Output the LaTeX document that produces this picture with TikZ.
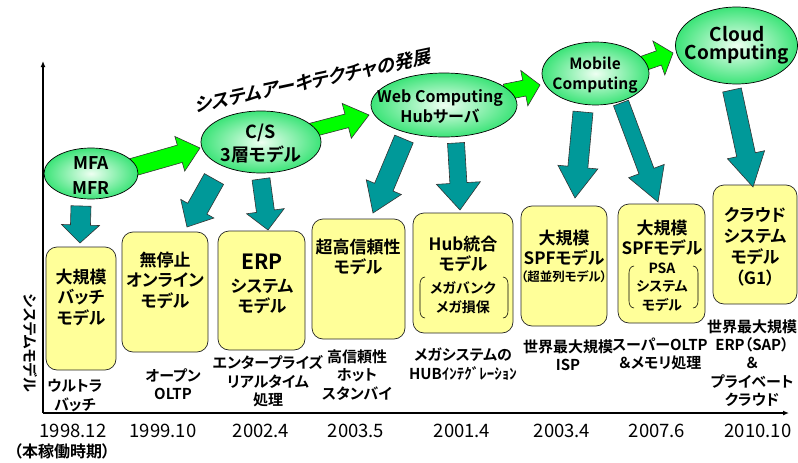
\documentclass[tikz,border=0pt]{standalone}
\usepackage{fontspec}
\setmainfont{Noto Sans CJK JP Bold}[RawFeature=+palt]
\newfontfamily\titlefont{Noto Sans CJK JP Bold}[RawFeature=+palt,FakeSlant=0.25]
\newfontfamily\datefont{Noto Sans CJK JP}
\usetikzlibrary{calc,shapes.geometric,arrows.meta}
\definecolor{boxyellow}{RGB}{255,255,153}
\definecolor{tealar}{RGB}{0,153,153}
\definecolor{greenar}{RGB}{0,255,0}
\definecolor{ellout}{RGB}{60,228,120}
\definecolor{ellin}{RGB}{238,255,242}
% block arrow: #1 style, #2 from, #3 to, #4 half shaft, #5 half head, #6 head length
\newcommand\blkarrow[6]{%
  \draw[#1] let \p1=(#2), \p2=(#3),
    \n1={atan2(\y2-\y1,\x2-\x1)}, \n2={veclen(\x2-\x1,\y2-\y1)-#6pt} in
    ($(\p1)+(\n1+90:#4pt)$) --
    ($(\p1)+(\n1:\n2)+(\n1+90:#4pt)$) --
    ($(\p1)+(\n1:\n2)+(\n1+90:#5pt)$) --
    (\p2) --
    ($(\p1)+(\n1:\n2)+(\n1-90:#5pt)$) --
    ($(\p1)+(\n1:\n2)+(\n1-90:#4pt)$) --
    ($(\p1)+(\n1-90:#4pt)$) -- cycle;}
\begin{document}
\begin{tikzpicture}[x=1pt,y=1pt,
  ybox/.style={draw=black!85, line width=0.7pt, fill=boxyellow, rounded corners=11pt, inner sep=0},
  ell/.style={ellipse, draw=black, line width=0.7pt, inner color=ellin, outer color=ellout, inner sep=0},
  tarrow/.style={fill=tealar, draw=black!80, line width=0.6pt, line join=miter},
  garrow/.style={fill=greenar, draw=black!80, line width=0.6pt, line join=miter},
  bt/.style={font=\fontsize{17}{20.5}\selectfont, align=center, inner sep=0},
  st/.style={font=\fontsize{14}{19}\selectfont, align=center, inner sep=0},
  ut/.style={font=\fontsize{15}{18.3}\selectfont, align=center, inner sep=0},
  dt/.style={font=\datefont\fontsize{18.5}{20}\selectfont, inner sep=0},
  et/.style={align=center, inner sep=0},
  brk/.style={draw=black, line width=0.6pt},
  axis/.style={draw=black, line width=1.3pt, -{Latex[length=6pt,width=5pt]}}]
\useasboundingbox (0,0) rectangle (798,-463);

% axes
\coordinate (origin) at (43,-413);
\coordinate (ytop) at (43,-61);
\coordinate (xend) at (789,-413);
\draw[axis] (origin) -- (ytop);
\draw[axis] (origin) -- (xend);

% title
\node[font=\titlefont\fontsize{18.5}{20}\selectfont, rotate=12, inner sep=0] (title) at (312,-81) {システムアーキテクチャの発展};

% y label
\node[font=\fontsize{15}{16}\selectfont, rotate=-90, inner sep=0] (ylab) at (30,-343) {システムモデル};

% boxes
\node[ybox, minimum width=70pt, minimum height=123pt] (b1) at (81,-308.5) {};
\node[ybox, minimum width=86pt, minimum height=120pt] (b2) at (165,-292) {};
\node[ybox, minimum width=87pt, minimum height=119pt] (b3) at (261.5,-290.5) {};
\node[ybox, minimum width=93pt, minimum height=120pt] (b4) at (358.5,-279) {};
\node[ybox, minimum width=100pt, minimum height=120pt] (b5) at (463,-273) {};
\node[ybox, minimum width=86pt, minimum height=120pt] (b6) at (564,-266) {};
\node[ybox, minimum width=87pt, minimum height=119pt] (b7) at (661.5,-263.5) {};
\node[ybox, minimum width=84pt, minimum height=119pt] (b8) at (755,-244.5) {};

% teal arrows
\coordinate (t1s) at (81,-206);  \coordinate (t1e) at (80,-243);
\coordinate (t2s) at (214,-179); \coordinate (t2e) at (187,-227);
\coordinate (t3s) at (261,-179); \coordinate (t3e) at (268,-230);
\coordinate (t4s) at (404,-139); \coordinate (t4e) at (373,-213);
\coordinate (t5s) at (456,-143); \coordinate (t5e) at (460,-210);
\coordinate (t6s) at (583,-112); \coordinate (t6e) at (575,-198);
\coordinate (t7s) at (621,-103); \coordinate (t7e) at (658,-202);
\coordinate (t8s) at (732,-90);  \coordinate (t8e) at (753,-187);
\blkarrow{tarrow}{t1s}{t1e}{10}{19}{18}
\blkarrow{tarrow}{t2s}{t2e}{11}{19}{21}
\blkarrow{tarrow}{t3s}{t3e}{9}{19}{19}
\blkarrow{tarrow}{t4s}{t4e}{10}{19}{28}
\blkarrow{tarrow}{t5s}{t5e}{8.5}{22}{27}
\blkarrow{tarrow}{t6s}{t6e}{10}{20}{31}
\blkarrow{tarrow}{t7s}{t7e}{8}{19}{33}
\blkarrow{tarrow}{t8s}{t8e}{9.5}{19}{33}

% green arrows
\coordinate (g1s) at (130,-168); \coordinate (g1e) at (200,-148);
\coordinate (g2s) at (308,-131); \coordinate (g2e) at (369,-115);
\coordinate (g3s) at (505,-92);  \coordinate (g3e) at (540,-85);
\coordinate (g4s) at (636,-66);  \coordinate (g4e) at (673,-53);
\blkarrow{garrow}{g1s}{g1e}{9}{18}{21}
\blkarrow{garrow}{g2s}{g2e}{7}{18}{23}
\blkarrow{garrow}{g3s}{g3e}{8}{18}{16}
\blkarrow{garrow}{g4s}{g4e}{7.5}{18}{15}

% ellipses
\node[ell, minimum width=94pt, minimum height=51pt] (mfa) at (91,-173.5) {};
\node[ell, minimum width=120pt, minimum height=62pt] (cs) at (261,-142) {};
\node[ell, minimum width=146pt, minimum height=64pt] (web) at (444,-105) {};
\node[ell, minimum width=107pt, minimum height=63pt] (mob) at (595.5,-73.5) {};
\node[ell, minimum width=122pt, minimum height=77pt] (cloud) at (736.5,-45.5) {};

\node[et, font=\fontsize{17.5}{25}\selectfont] (mfat) at (91,-176) {MFA\\MFR};
\node[et, font=\fontsize{18}{23}\selectfont] (cst) at (261,-144) {C/S\\3層モデル};
\node[et, font=\fontsize{16}{20}\selectfont] (webt) at (440,-107) {Web Computing\\Hubサーバ};
\node[et, font=\fontsize{15.5}{20}\selectfont] (mobt) at (595,-75) {Mobile\\Computing};
\node[et, font=\fontsize{19}{18}\selectfont] (cloudt) at (737,-45) {Cloud\\Computing};

% box texts
\node[bt] (b1t) at (81,-297) {大規模\\バッチ\\モデル};
\node[bt] (b2t) at (165,-280) {無停止\\オンライン\\モデル};
\node[et, font=\fontsize{21}{22}\selectfont] (b3a) at (262,-262) {ERP};
\node[bt] (b3b) at (262,-296.5) {システム\\モデル};
\node[bt] (b4t) at (358,-257) {超高信頼性\\モデル};
\node[bt] (b5t) at (463,-254) {Hub統合\\モデル};
\node[st] (b5s) at (463,-297.5) {メガバンク\\メガ損保};
\draw[brk] (425,-277) to[out=180,in=90] (420,-284) -- (420,-311) to[out=-90,in=180] (425,-318);
\draw[brk] (503,-277) to[out=0,in=90] (508,-284) -- (508,-311) to[out=-90,in=0] (503,-318);
\node[bt] (b6t) at (564,-248) {大規模\\SPFモデル};
\node[et, font=\fontsize{12.5}{14}\selectfont] (b6s) at (564,-277) {（超並列モデル）};
\node[bt] (b7t) at (662,-238) {大規模\\SPFモデル};
\node[st, font=\fontsize{14}{18.5}\selectfont] (b7s) at (662,-287) {PSA\\システム\\モデル};
\draw[brk] (634,-266) to[out=180,in=90] (629,-273) -- (629,-301) to[out=-90,in=180] (634,-308);
\draw[brk] (693,-266) to[out=0,in=90] (698,-273) -- (698,-301) to[out=-90,in=0] (693,-308);
\node[bt, font=\fontsize{17}{21}\selectfont] (b8t) at (755,-247) {クラウド\\システム\\モデル\\（G1）};

% under texts
\node[ut] (u1) at (75,-395.5) {ウルトラ\\バッチ};
\node[ut] (u2) at (173,-384) {オープン\\OLTP};
\node[ut] (u3) at (268,-381.5) {エンタープライズ\\リアルタイム\\処理};
\node[ut] (u4) at (357,-375) {高信頼性\\ホット\\スタンバイ};
\node[ut] (u5) at (463,-364) {メガシステムの\\HUBｲﾝﾃｸﾞﾚｰｼｮﾝ};
\node[ut] (u6) at (568,-355) {世界最大規模\\ISP};
\node[ut] (u7) at (660,-354) {スーパーOLTP\\＆メモリ処理};
\node[ut] (u8) at (752,-363) {世界最大規模\\ERP（SAP）\\＆\\プライベート\\クラウド};

% dates
\node[dt] (d1) at (73,-431) {1998.12};
\node[dt] (d2) at (163,-431) {1999.10};
\node[dt] (d3) at (261,-431) {2002.4};
\node[dt] (d4) at (356,-431) {2003.5};
\node[dt] (d5) at (462,-431) {2001.4};
\node[dt] (d6) at (562,-431) {2003.4};
\node[dt] (d7) at (657,-431) {2007.6};
\node[dt] (d8) at (758,-431) {2010.10};
\node[et, font=\fontsize{16}{18}\selectfont] (d0) at (62,-451) {（本稼働時期）};
\end{tikzpicture}
\end{document}
